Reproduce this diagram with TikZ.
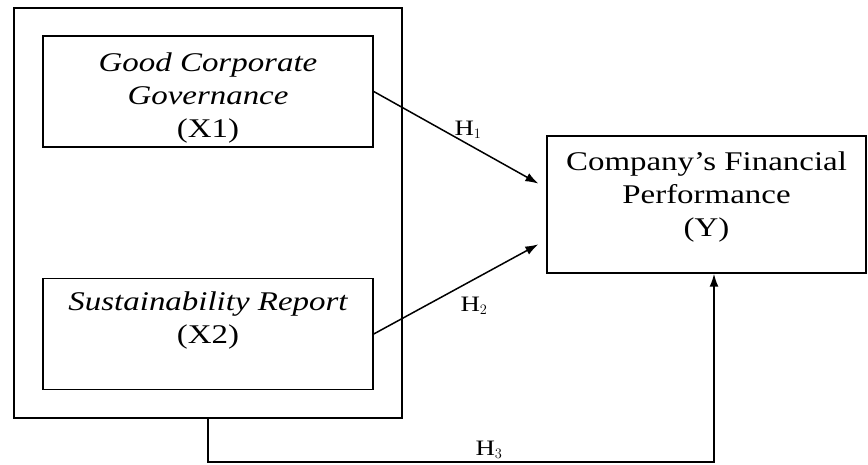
\documentclass[tikz,border=0pt]{standalone}
\usepackage{fontspec}
\setmainfont{Liberation Serif}[FakeStretch=1.22]
\usetikzlibrary{arrows.meta,positioning}

\begin{document}
\begin{tikzpicture}[x=1pt,y=-1pt,>={Latex[length=13pt,width=9pt]},line width=1.5pt,node distance=130pt,
	box/.style={draw,rectangle,align=center,inner sep=0pt,font=\fontsize{27}{33}\selectfont},
	hyp/.style={font=\fontsize{22}{24}\selectfont}]

\useasboundingbox (0,0) rectangle (868,465);

\node[box,minimum width=388pt,minimum height=410pt] (outer) at (208,213) {};
 \node[box,minimum width=330pt,minimum height=111pt] (gcg) at (208,91.5)
	{\rule{0pt}{32pt}\itshape Good Corporate\\\itshape Governance\\(X1)};
	\node[box,minimum width=330pt,minimum height=111pt] (sr) [below=of gcg]
	{\itshape Sustainability Report\\(X2)\\\mbox{}};
\node[box,minimum width=319pt,minimum height=137pt] (perf) at (706.5,204.5)
	{Company’s Financial\\Performance\\(Y)\\[-12pt]\mbox{}};

\coordinate (c1) at (208,462);
\coordinate (c2) at (714,462);

	\path[->,shorten >=9pt] (gcg.east) edge ([yshift=16.5pt]perf.west)
					(sr.east) edge ([yshift=-35.5pt]perf.west);

	\draw[->] (outer.south) -- (c1) -- (c2) -- (c2 |- perf.south);

\node[hyp] (h1) at (468,130) {H$_1$};
\node[hyp] (h2) at (474,306) {H$_2$};
\node[hyp] (h3) at (489,450) {H$_3$};

\end{tikzpicture}
\end{document}
